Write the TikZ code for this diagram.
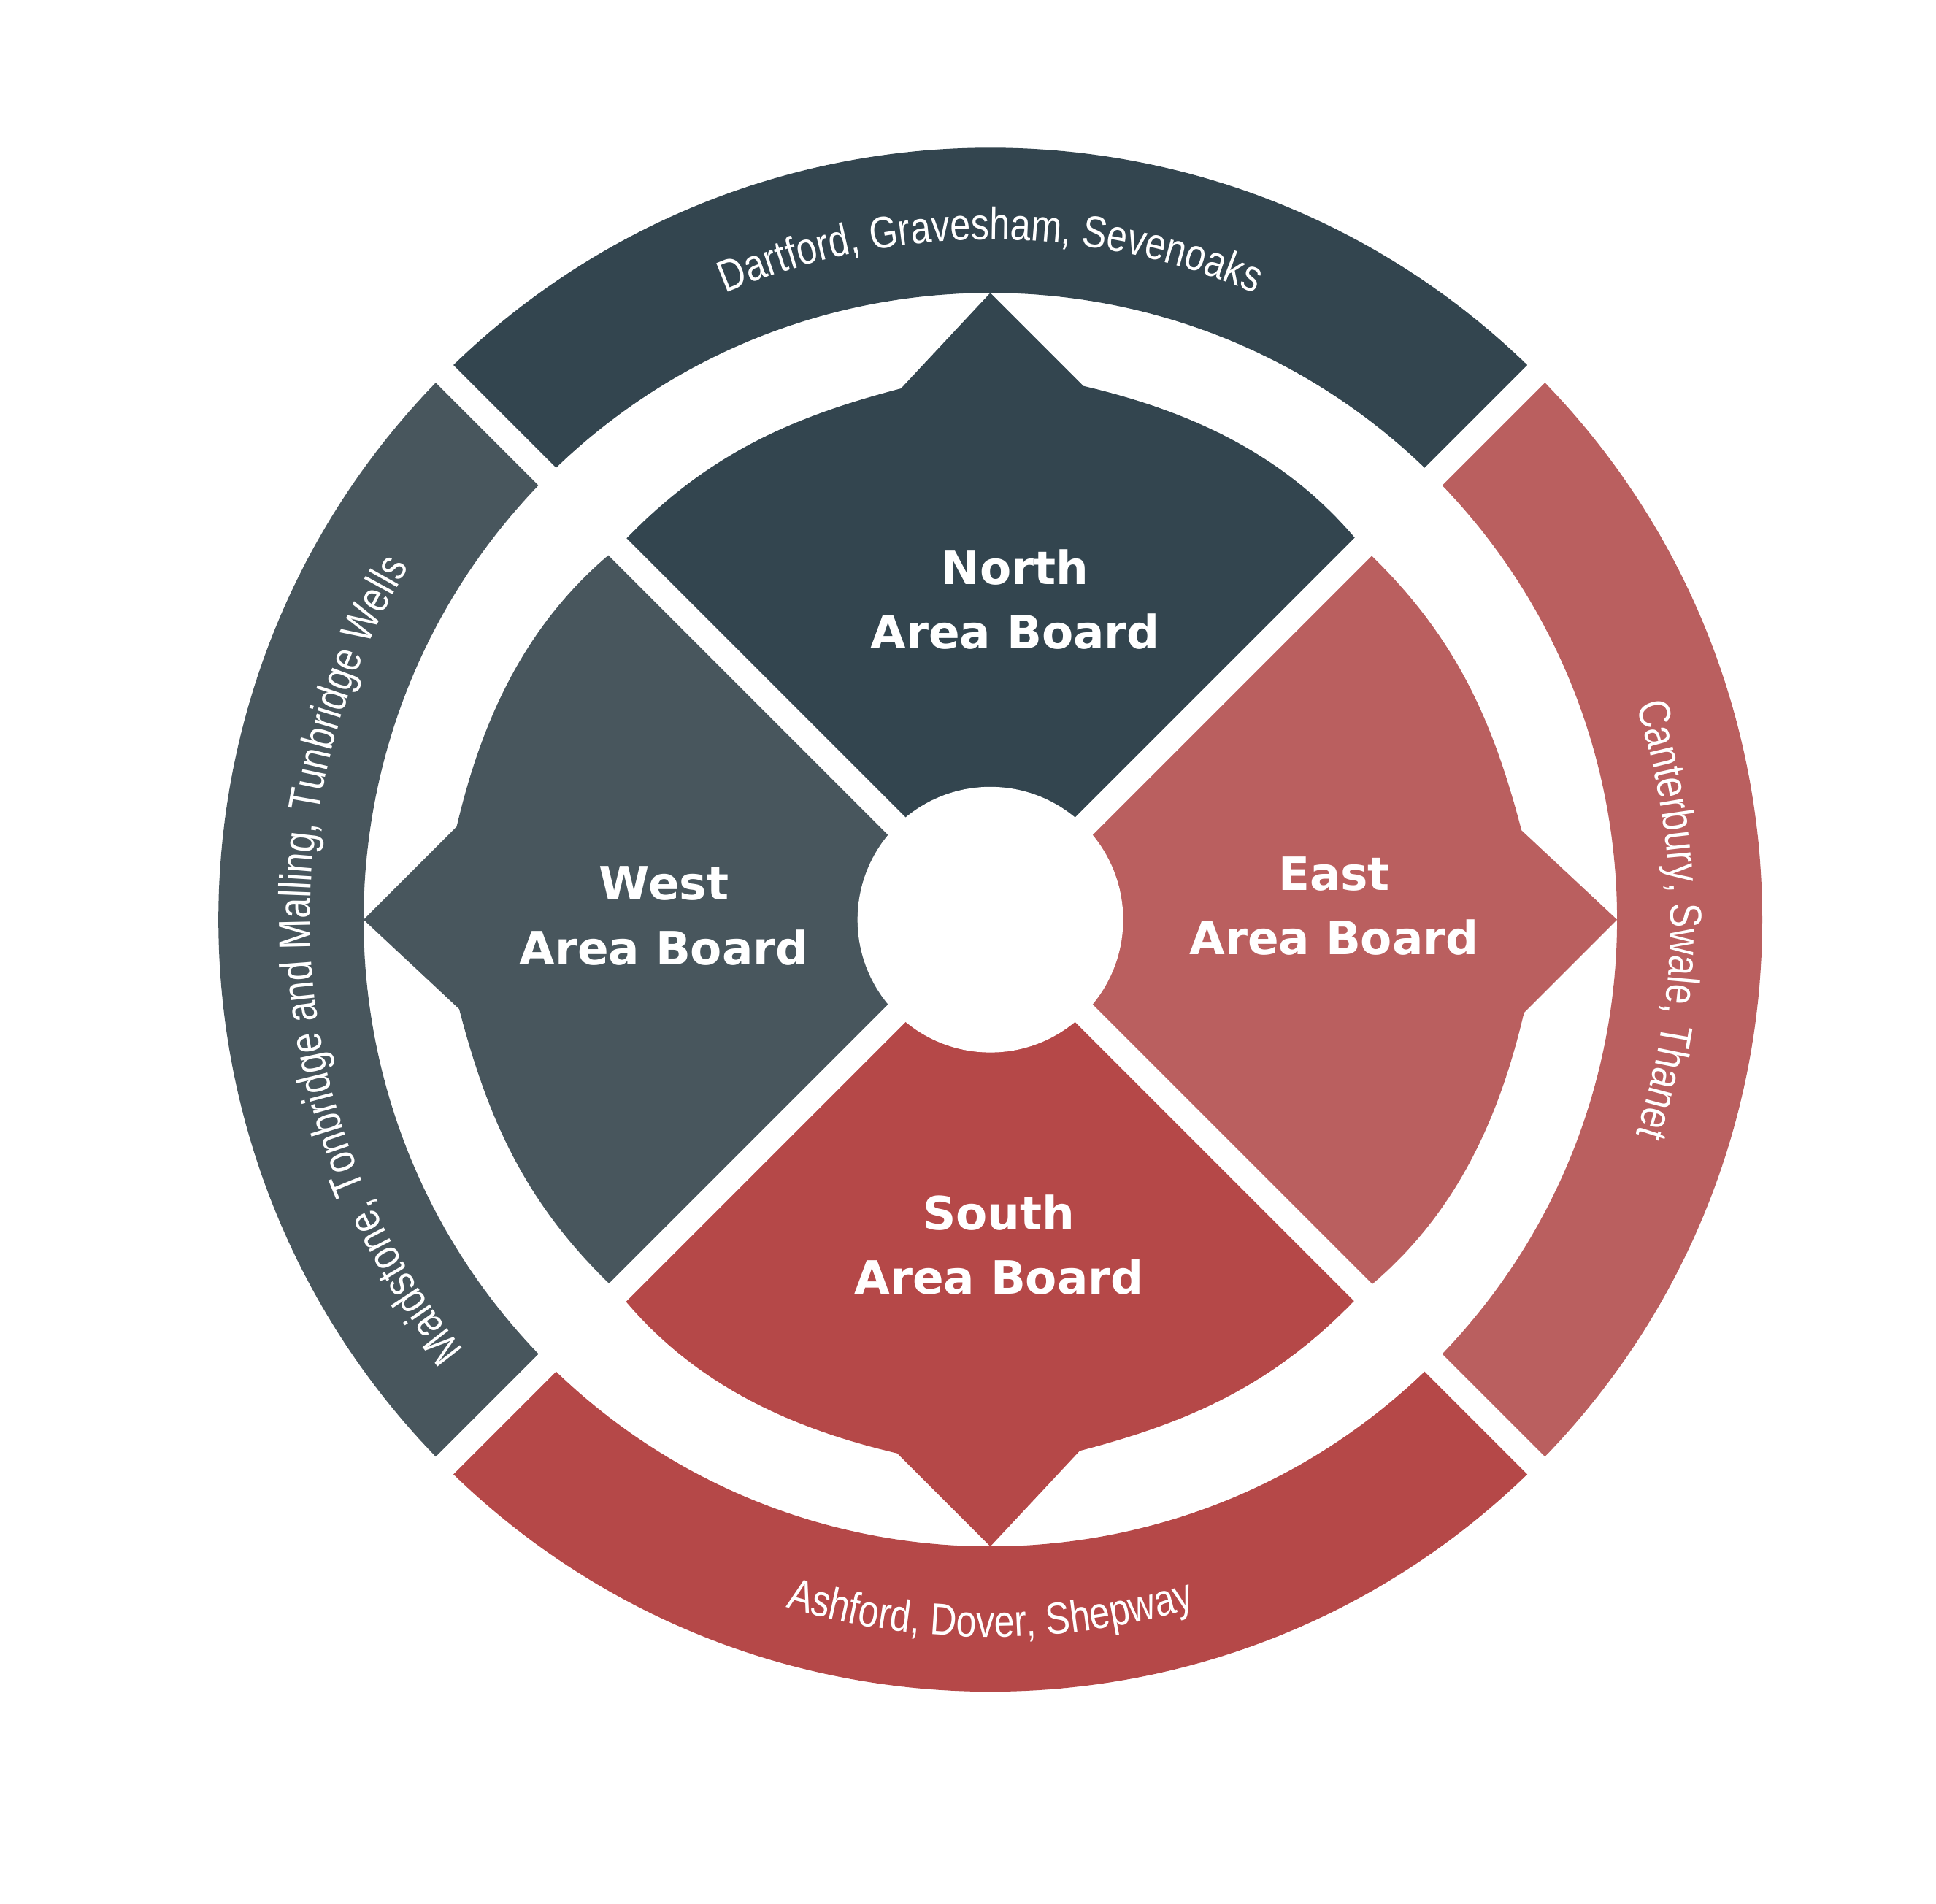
\documentclass[tikz,border=0pt]{standalone}
\usepackage{fontspec}
\setmainfont{DejaVu Sans}
\newfontfamily\narrowf[FakeStretch=0.82]{Liberation Sans}
\usetikzlibrary{decorations.text}
\definecolor{cN}{HTML}{33454F}
\definecolor{cW}{HTML}{48565D}
\definecolor{cE}{HTML}{BA5F5F}
\definecolor{cS}{HTML}{B54848}
\begin{document}
\begin{tikzpicture}[x=1pt,y=1pt,
  petal/.pic={\fill[#1] (-300,300) .. controls (-230,375) and (-160,405) .. (-72,428) -- (0,505) -- (75,430) .. controls (160,410) and (240,375) .. (300,300) -- (0,0) -- cycle;},
  lbl/.style={text=white,font=\bfseries\fontsize{37}{52}\selectfont,align=center},
  rt/.style={decorate,decoration={text along path,text align=center,text color=white,
     text={|\narrowf\fontsize{36}{36}\selectfont|#1}}}]
\useasboundingbox (-798,-793) rectangle (762,741);
% ring
\fill[cN] (45:622) arc (45:135:622) -- (135:505) arc (135:45:505) -- cycle;
\fill[cW] (135:622) arc (135:225:622) -- (225:505) arc (225:135:505) -- cycle;
\fill[cS] (225:622) arc (225:315:622) -- (315:505) arc (315:225:505) -- cycle;
\fill[cE] (-45:622) arc (-45:45:622) -- (45:505) arc (45:-45:505) -- cycle;
% petals
\pic[rotate=0] {petal=cN};
\pic[rotate=90] {petal=cW};
\pic[rotate=180] {petal=cS};
\pic[rotate=-90] {petal=cE};
% gaps
\draw[white,line width=20] (-680,-680) -- (680,680);
\draw[white,line width=20] (-680,680) -- (680,-680);
\fill[white] (0,0) circle (107);
% labels
\node[lbl] (north) at (20,258) {North\\Area Board};
\node[lbl] (west) at (-263,3) {West\\Area Board};
\node[lbl] (east) at (277,11) {East\\Area Board};
\node[lbl] (south) at (7,-262) {South\\Area Board};
% ring texts
\path[rt={Dartford, Gravesham, Sevenoaks}] (128:548) arc (128:52:548);
\path[rt={Canterbury, Swale, Thanet}] (38:548) arc (38:-38:548);
\path[rt={Maidstone, Tonbridge and Malling, Tunbridge Wells}] (234:548) arc (234:134:548);
\path[rt={Ashford, Dover, Shepway}] (245:578) arc (245:295:578);
\end{tikzpicture}
\end{document}
